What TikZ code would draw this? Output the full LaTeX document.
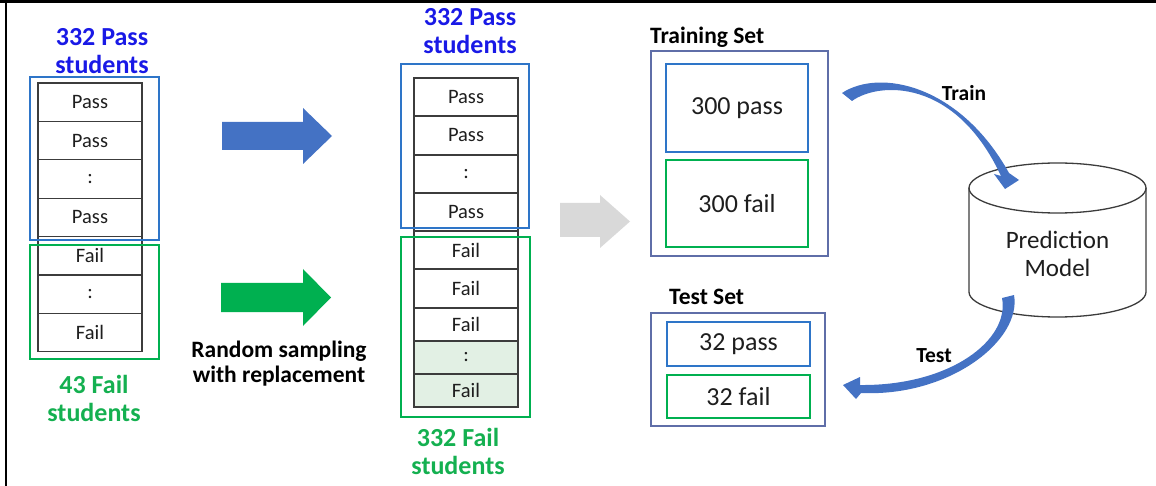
\documentclass[tikz,border=0pt]{standalone}
\usepackage{fontspec}
\setmainfont{Carlito}
\definecolor{hblue}{RGB}{25,25,230}
\definecolor{hgreen}{RGB}{20,176,80}
\definecolor{bbox}{RGB}{46,117,200}
\definecolor{gbox}{RGB}{0,176,80}
\definecolor{setbox}{RGB}{95,110,168}
\definecolor{arrblue}{RGB}{68,114,196}
\definecolor{arrgreen}{RGB}{0,176,80}
\definecolor{arrgray}{RGB}{217,217,217}
\definecolor{cellshade}{RGB}{226,240,228}
\definecolor{cellline}{RGB}{60,60,60}
\definecolor{txt}{RGB}{30,30,30}
\begin{document}
\begin{tikzpicture}[x=1pt,y=-1pt,
  cell/.style={draw=cellline, line width=1.3pt, minimum width=104pt, minimum height=38.4pt, inner sep=0pt, text=txt, font=\fontsize{20.5}{22}\selectfont},
  hdr/.style={font=\bfseries\fontsize{26}{28}\selectfont, align=center, inner sep=0pt},
  lbl/.style={font=\bfseries\fontsize{23.5}{25}\selectfont, align=center, inner sep=0pt, text=black},
  bluebox/.style={draw=bbox, line width=2pt},
  greenbox/.style={draw=gbox, line width=2pt},
  setframe/.style={draw=setbox, line width=1.5pt},
  inbox/.style={line width=2pt, minimum width=142pt, inner sep=0pt, text=txt, font=\fontsize{26}{28}\selectfont}
]
\useasboundingbox (0,0) rectangle (1156,486);
% frame
\draw[line width=3pt] (0,1.5) -- (1156,1.5);
\draw[line width=2pt] (6,0) -- (6,486);

% ---------- left column ----------
\foreach \t [count=\i] in {Pass,Pass,:,Pass,Fail,:,Fail}{
  \node[cell] (l\i) at (90,{83+38.4*(\i-0.5)}) {\t};
}
\draw[bluebox] (30,77) rectangle (159,240);
\draw[greenbox] (30,245) rectangle (159,359);
\node[hdr, text=hblue] (lhp) at (102,51) {332 Pass\\students};
\node[hdr, text=hgreen] (lhf) at (94,398) {43 Fail\\students};

% block arrows
\fill[arrblue] (222,122) -- (303,122) -- (303,108) -- (332,136) -- (303,164) -- (303,150) -- (222,150) -- cycle;
\fill[arrgreen] (221,283) -- (303,283) -- (303,269) -- (331,297.5) -- (303,326) -- (303,312) -- (221,312) -- cycle;
\node[lbl] (rs) at (279,364) {Random sampling\\with replacement};

% ---------- middle column ----------
\foreach \t/\y/\h/\f [count=\i] in {Pass/97/38/white,Pass/135.5/39/white,:/174/38/white,Pass/212/38/white,Fail/250/38/white,Fail/288.5/39/white,Fail/324.5/33/white,:/357.5/33/cellshade,Fail/390.5/33/cellshade}{
  \node[cell, minimum height=\h pt, fill=\f] (m\i) at (466,\y) {\t};
}
\draw[bluebox] (401,64) rectangle (529,228);
\draw[greenbox] (401,237) rectangle (530,417);
\node[hdr, text=hblue] (mhp) at (470,31) {332 Pass\\students};
\node[hdr, text=hgreen] (mhf) at (458,451) {332 Fail\\students};

% gray arrow
\fill[arrgray] (560,203) -- (600,203) -- (600,195) -- (630,221.5) -- (600,248) -- (600,237) -- (560,237) -- cycle;

% ---------- right section ----------
\node[lbl, anchor=west] (trs) at (650,37) {Training Set};
\draw[setframe] (651,51) rectangle (828,256);
\node[inbox, draw=bbox, minimum height=88pt] (p300) at (737,108) {300 pass};
\node[inbox, draw=gbox, minimum height=87pt] (f300) at (737,203.5) {300 fail};

\node[lbl, anchor=west] (tss) at (669,297) {Test Set};
\draw[setframe] (651,313) rectangle (825,426);
\node[inbox, draw=bbox, minimum width=143pt, minimum height=44pt] (p32) at (738.5,344) {32 pass};
\node[inbox, draw=gbox, minimum width=143pt, minimum height=43pt] (f32) at (738.5,396.5) {32 fail};

% cylinder
\draw[line width=1.3pt, draw=cellline, fill=white] (969,188) -- (969,292) arc[start angle=180, end angle=0, x radius=88.5, y radius=25] -- (1146,188);
\draw[line width=1.3pt, draw=cellline] (1057.5,188) ellipse[x radius=88.5, y radius=25];
\node[align=center, inner sep=0pt, text=txt, font=\fontsize{25}{28}\selectfont] (model) at (1057.5,254) {Prediction\\Model};

% curved arrows
\fill[arrblue] (852,101) .. controls (878,82) and (955,77) .. (1001,176)
  -- (994,174) -- (1005,189) -- (1019,180) -- (1009,173)
  .. controls (960,85) and (880,68) .. (842,93) -- cycle;
\fill[arrblue] (1014,295) .. controls (1022,340) and (950,397) .. (861,393)
  -- (856,399) -- (843,385) -- (860,377) -- (860,385)
  .. controls (950,386) and (1010,340) .. (1002,298) -- cycle;
\node[lbl, font=\bfseries\fontsize{21.5}{24}\selectfont] (trl) at (964,93) {Train};
\node[lbl, font=\bfseries\fontsize{21.5}{24}\selectfont] (tsl) at (934,356) {Test};
\end{tikzpicture}
\end{document}
